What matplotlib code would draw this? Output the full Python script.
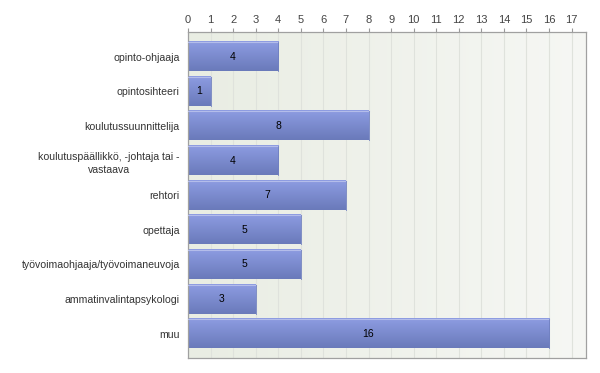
import matplotlib.pyplot as plt
import numpy as np
from matplotlib.colors import LinearSegmentedColormap

categories = ["opinto-ohjaaja", "opintosihteeri", "koulutussuunnittelija",
              "koulutuspäällikkö, -johtaja tai -\nvastaava", "rehtori", "opettaja",
              "työvoimaohjaaja/työvoimaneuvoja", "ammatinvalintapsykologi", "muu"]
counts = [4, 1, 8, 4, 7, 5, 5, 3, 16]
xticks = list(range(0, 18))

plt.rcParams['font.family'] = ['Liberation Sans', 'DejaVu Sans']

fig = plt.figure(figsize=(6, 3.73), dpi=100)
ax = fig.add_axes([0.3133, 0.0402, 0.976 - 0.3133, 0.9134 - 0.0402])

xmax = 17.62
pad = 0.7

# background gradient
bg = LinearSegmentedColormap.from_list('bg', ['#e9ede3', '#f6f7f4'])
ax.imshow(np.linspace(0, 1, 256).reshape(1, -1), cmap=bg, aspect='auto',
          extent=(0, 1, 0, 1), transform=ax.transAxes, zorder=0)

for x in xticks[1:]:
    ax.axvline(x, color='#dfe2dc', lw=0.8, zorder=1)

bar_cmap = LinearSegmentedColormap.from_list('bar', ['#8d9ce2', '#6a7aba'])
h = 0.84
for i, v in enumerate(counts):
    ax.imshow(np.linspace(0, 1, 64).reshape(-1, 1), cmap=bar_cmap, aspect='auto',
              extent=(0, v, i + h / 2, i - h / 2), zorder=2)
    ax.plot([0, v], [i - h / 2, i - h / 2], color='#b4bdea', lw=0.8, zorder=3)
    ax.plot([v, v], [i - h / 2, i + h / 2], color='#7080c0', lw=0.6, zorder=3)
    ax.text(v / 2, i, str(v), ha='center', va='center', fontsize=7.5, color='black', zorder=4)

ax.set_ylim(len(categories) - 1 + pad, -pad)
ax.set_xlim(0, xmax)

ax.xaxis.tick_top()
ax.set_xticks(xticks)
ax.tick_params(axis='x', colors='#999999', labelcolor='#444444', labelsize=8,
               length=3, width=0.8, pad=2)
ax.set_yticks(range(len(categories)))
ax.set_yticklabels(categories)
ax.tick_params(axis='y', length=0, labelcolor='#333333', labelsize=7.6, pad=6)
for lab in ax.get_yticklabels():
    lab.set_multialignment('center')
    lab.set_linespacing(1.45)

for s in ax.spines.values():
    s.set_color('#a0a0a0')
    s.set_linewidth(0.9)

fig.savefig('out.png', dpi=100)
